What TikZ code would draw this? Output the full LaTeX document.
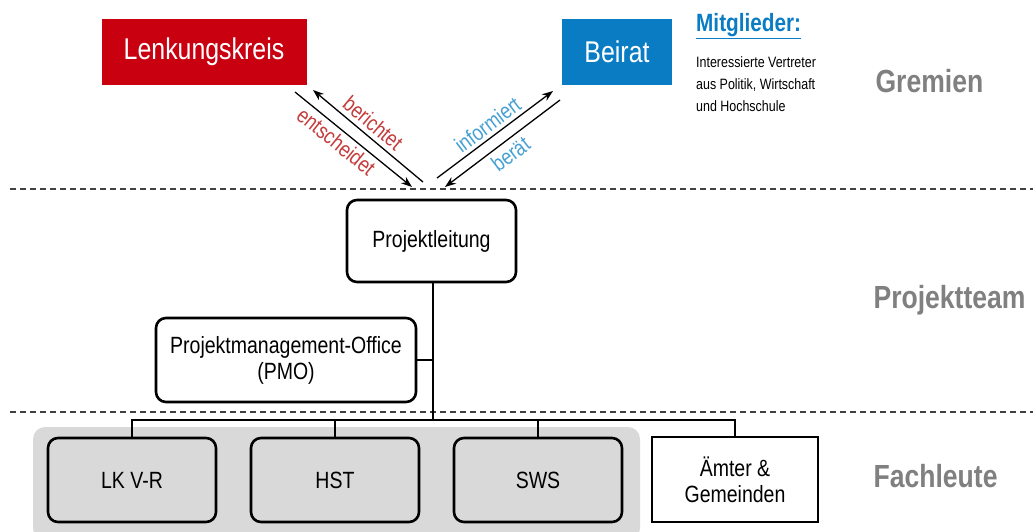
\documentclass[tikz,border=0pt]{standalone}
\usepackage{fontspec}
\setmainfont{Liberation Sans}[FakeStretch=0.83]
\usetikzlibrary{arrows.meta}
\definecolor{lkred}{RGB}{200,0,16}
\definecolor{brblue}{RGB}{10,124,196}
\definecolor{labred}{RGB}{196,60,60}
\definecolor{labblue}{RGB}{70,160,210}
\definecolor{sectgray}{RGB}{128,128,128}
\definecolor{boxgray}{RGB}{217,217,217}
\begin{document}
\begin{tikzpicture}[x=1pt,y=-1pt,
  font=\fontsize{23.5}{26}\selectfont,
  headbox/.style={fill=#1, text=white, minimum height=66pt, inner sep=0pt, font=\fontsize{30}{32}\selectfont},
  orgbox/.style={draw=black, line width=2.6pt, rounded corners=10pt, align=center, inner sep=0pt},
  unitbox/.style={orgbox, fill=boxgray, minimum width=168pt, minimum height=84pt},
  sect/.style={text=sectgray, font=\fontsize{32}{34}\selectfont\bfseries, anchor=base west},
  sep/.style={draw=black!75, line width=1.4pt, dash pattern=on 6pt off 4pt},
  arr/.style={line width=1.3pt, -{Stealth[length=11pt,width=8pt]}},
  lab/.style={font=\fontsize{22}{24}\selectfont, inner sep=1pt},
  conn/.style={line width=2.8pt}
]
\useasboundingbox (0,0) rectangle (1033,531);

% separators
\coordinate (s1a) at (10,189); \coordinate (s1b) at (1033,189);
\coordinate (s2a) at (10,412); \coordinate (s2b) at (1033,412);
\draw[sep] (s1a) -- (s1b);
\draw[sep] (s2a) -- (s2b);

% header boxes
\node[headbox=lkred, minimum width=205pt] (lk) at (204,52) {Lenkungskreis};
\node[headbox=brblue, minimum width=110pt] (br) at (617,52) {Beirat};

% members
\node[anchor=base west, text=brblue, inner sep=0pt, font=\fontsize{25}{27}\selectfont\bfseries] (mg) at (696,31) {\underline{Mitglieder:}};
\node[anchor=north west, inner sep=0pt, align=left, font=\fontsize{15}{22}\selectfont] (mt) at (696,56) {Interessierte Vertreter\\aus Politik, Wirtschaft\\und Hochschule};

% section labels
\node[sect] (g) at (872,92) {Gremien};
\node[sect] (p) at (870,308) {Projektteam};
\node[sect] (f) at (870,487) {Fachleute};

% arrows
\coordinate (b1) at (313,90); \coordinate (b2) at (423,182);
\coordinate (e1) at (295,92); \coordinate (e2) at (412,187);
\coordinate (i1) at (437,178); \coordinate (i2) at (553,91);
\coordinate (r1) at (560,100); \coordinate (r2) at (445,187);
\draw[arr] (b2) -- (b1);
\draw[arr] (e1) -- (e2);
\draw[arr] (i1) -- (i2);
\draw[arr] (r1) -- (r2);
\path (b1) -- (b2) node[pos=0.47, sloped, above=4pt, lab, text=labred] {berichtet};
\path (e1) -- (e2) node[pos=0.42, sloped, below=3pt, lab, text=labred] {entscheidet};
\path (i1) -- (i2) node[pos=0.5, sloped, above=3pt, lab, text=labblue] {informiert};
\path (r2) -- (r1) node[pos=0.5, sloped, below=4pt, lab, text=labblue] {berät};

% project team
\node[orgbox, minimum width=169pt, minimum height=82pt] (pl) at (431.5,241) {Projektleitung};
\node[orgbox, minimum width=260pt, minimum height=84pt] (pmo) at (286,360) {Projektmanagement-Office\\(PMO)};

% background of units
\fill[boxgray, rounded corners=12pt] (33,427) rectangle (640,540);

% units
\node[unitbox] (lkvr) at (132,480) {LK V-R};
\node[unitbox] (hst) at (335,480) {HST};
\node[unitbox] (sws) at (538,480) {SWS};
\node[orgbox, rounded corners=0pt, fill=white, minimum width=166pt, minimum height=85pt] (amt) at (735,479.5) {Ämter \&\\Gemeinden};

% connectors
\coordinate (bus) at (433,420);
\draw[conn] (pl.south -| bus) -- (bus);
\draw[conn] (pmo.east) -- (pmo.east -| bus);
\draw[conn] (lkvr.north) |- (bus);
\draw[conn] (hst.north) |- (bus);
\draw[conn] (sws.north) |- (bus);
\draw[conn] (amt.north) |- (bus);
\end{tikzpicture}
\end{document}
